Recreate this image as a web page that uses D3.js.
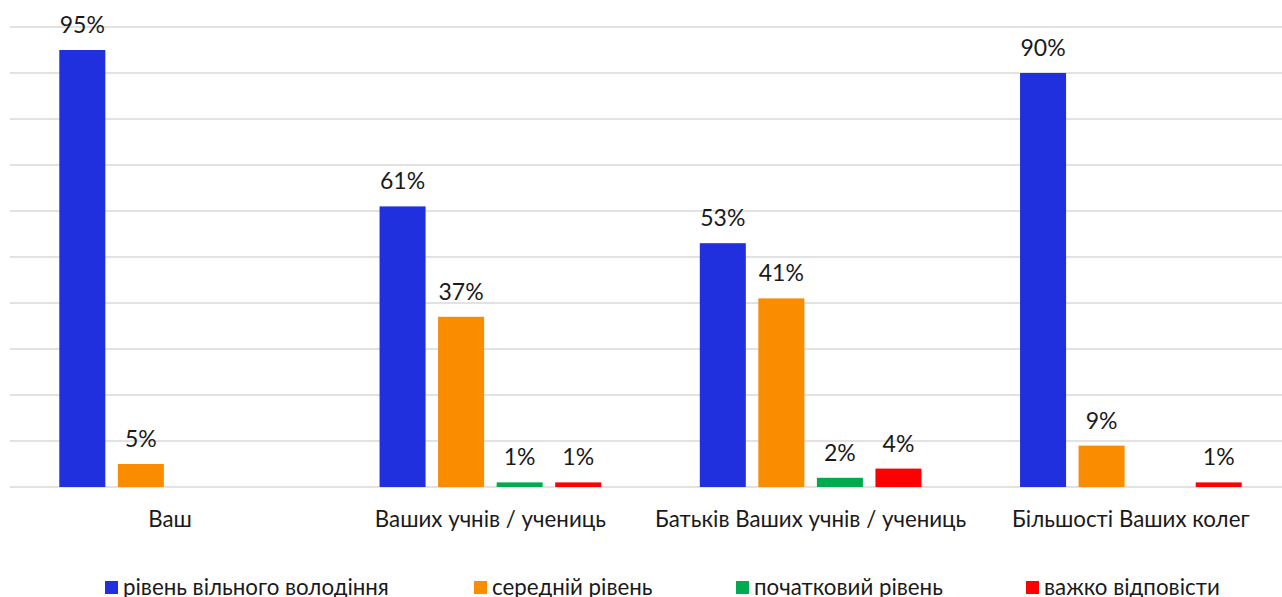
<!DOCTYPE html>
<html><head><meta charset="utf-8">
<script src="https://cdn.jsdelivr.net/npm/d3@7"></script>
<style>body{margin:0;background:#fff;overflow:hidden}text{font-family:Lato,"Noto Sans",sans-serif;fill:#1a1a1a}</style>
</head><body><svg id="c" width="1282" height="597"></svg>
<script>
const categories = ["Ваш", "Ваших учнів / учениць", "Батьків Ваших учнів / учениць", "Більшості Ваших колег"];
const seriesNames = ["рівень вільного володіння", "середній рівень", "початковий рівень", "важко відповісти"];
const seriesColors = ["#2130de", "#fa8c00", "#00aa4f", "#fd0000"];
const fluent = [95, 61, 53, 90];
const medium = [5, 37, 41, 9];
const initial = [null, 1, 2, null];
const hard = [null, 1, 4, 1];
const yTicks = [0, 10, 20, 30, 40, 50, 60, 70, 80, 90, 100];

const values = [fluent, medium, initial, hard];
const svg = d3.select("#c");
const y = d3.scaleLinear().domain([0, 100]).range([487, 27]);
const x0 = d3.scaleBand().domain(categories).range([10, 1291]);
const x1 = d3.scaleBand().domain(seriesNames).range([0, x0.bandwidth()]).paddingInner(0.214).paddingOuter(0.842);

svg.append("g").selectAll("line").data(yTicks).join("line")
  .attr("x1", 10).attr("x2", 1282)
  .attr("y1", d => y(d)).attr("y2", d => y(d))
  .attr("stroke", "#d9d9d9").attr("stroke-width", 1.5);

const g = svg.append("g");
categories.forEach((c, ci) => {
  seriesNames.forEach((s, si) => {
    const v = values[si][ci];
    if (v == null) return;
    const bx = x0(c) + x1(s);
    g.append("rect").attr("x", bx).attr("y", y(v)).attr("width", x1.bandwidth())
      .attr("height", y(0) - y(v)).attr("fill", seriesColors[si]);
    g.append("text").attr("x", bx + x1.bandwidth() / 2).attr("y", y(v) - 17)
      .attr("text-anchor", "middle").attr("font-size", 23).text(v + "%");
  });
});

svg.append("g").selectAll("text").data(categories).join("text")
  .attr("x", d => x0(d) + x1(seriesNames[0]) + (x1(seriesNames[3]) + x1.bandwidth() - x1(seriesNames[0])) / 2)
  .attr("y", 527).attr("text-anchor", "middle").attr("font-size", 22.3).text(d => d);

const legX = [105, 474, 736, 1026];
const lg = svg.append("g");
seriesNames.forEach((s, i) => {
  lg.append("rect").attr("x", legX[i]).attr("y", 581).attr("width", 13).attr("height", 13).attr("fill", seriesColors[i]);
  lg.append("text").attr("x", legX[i] + 18).attr("y", 595).attr("font-size", 22.3).text(s);
});
</script></body></html>
